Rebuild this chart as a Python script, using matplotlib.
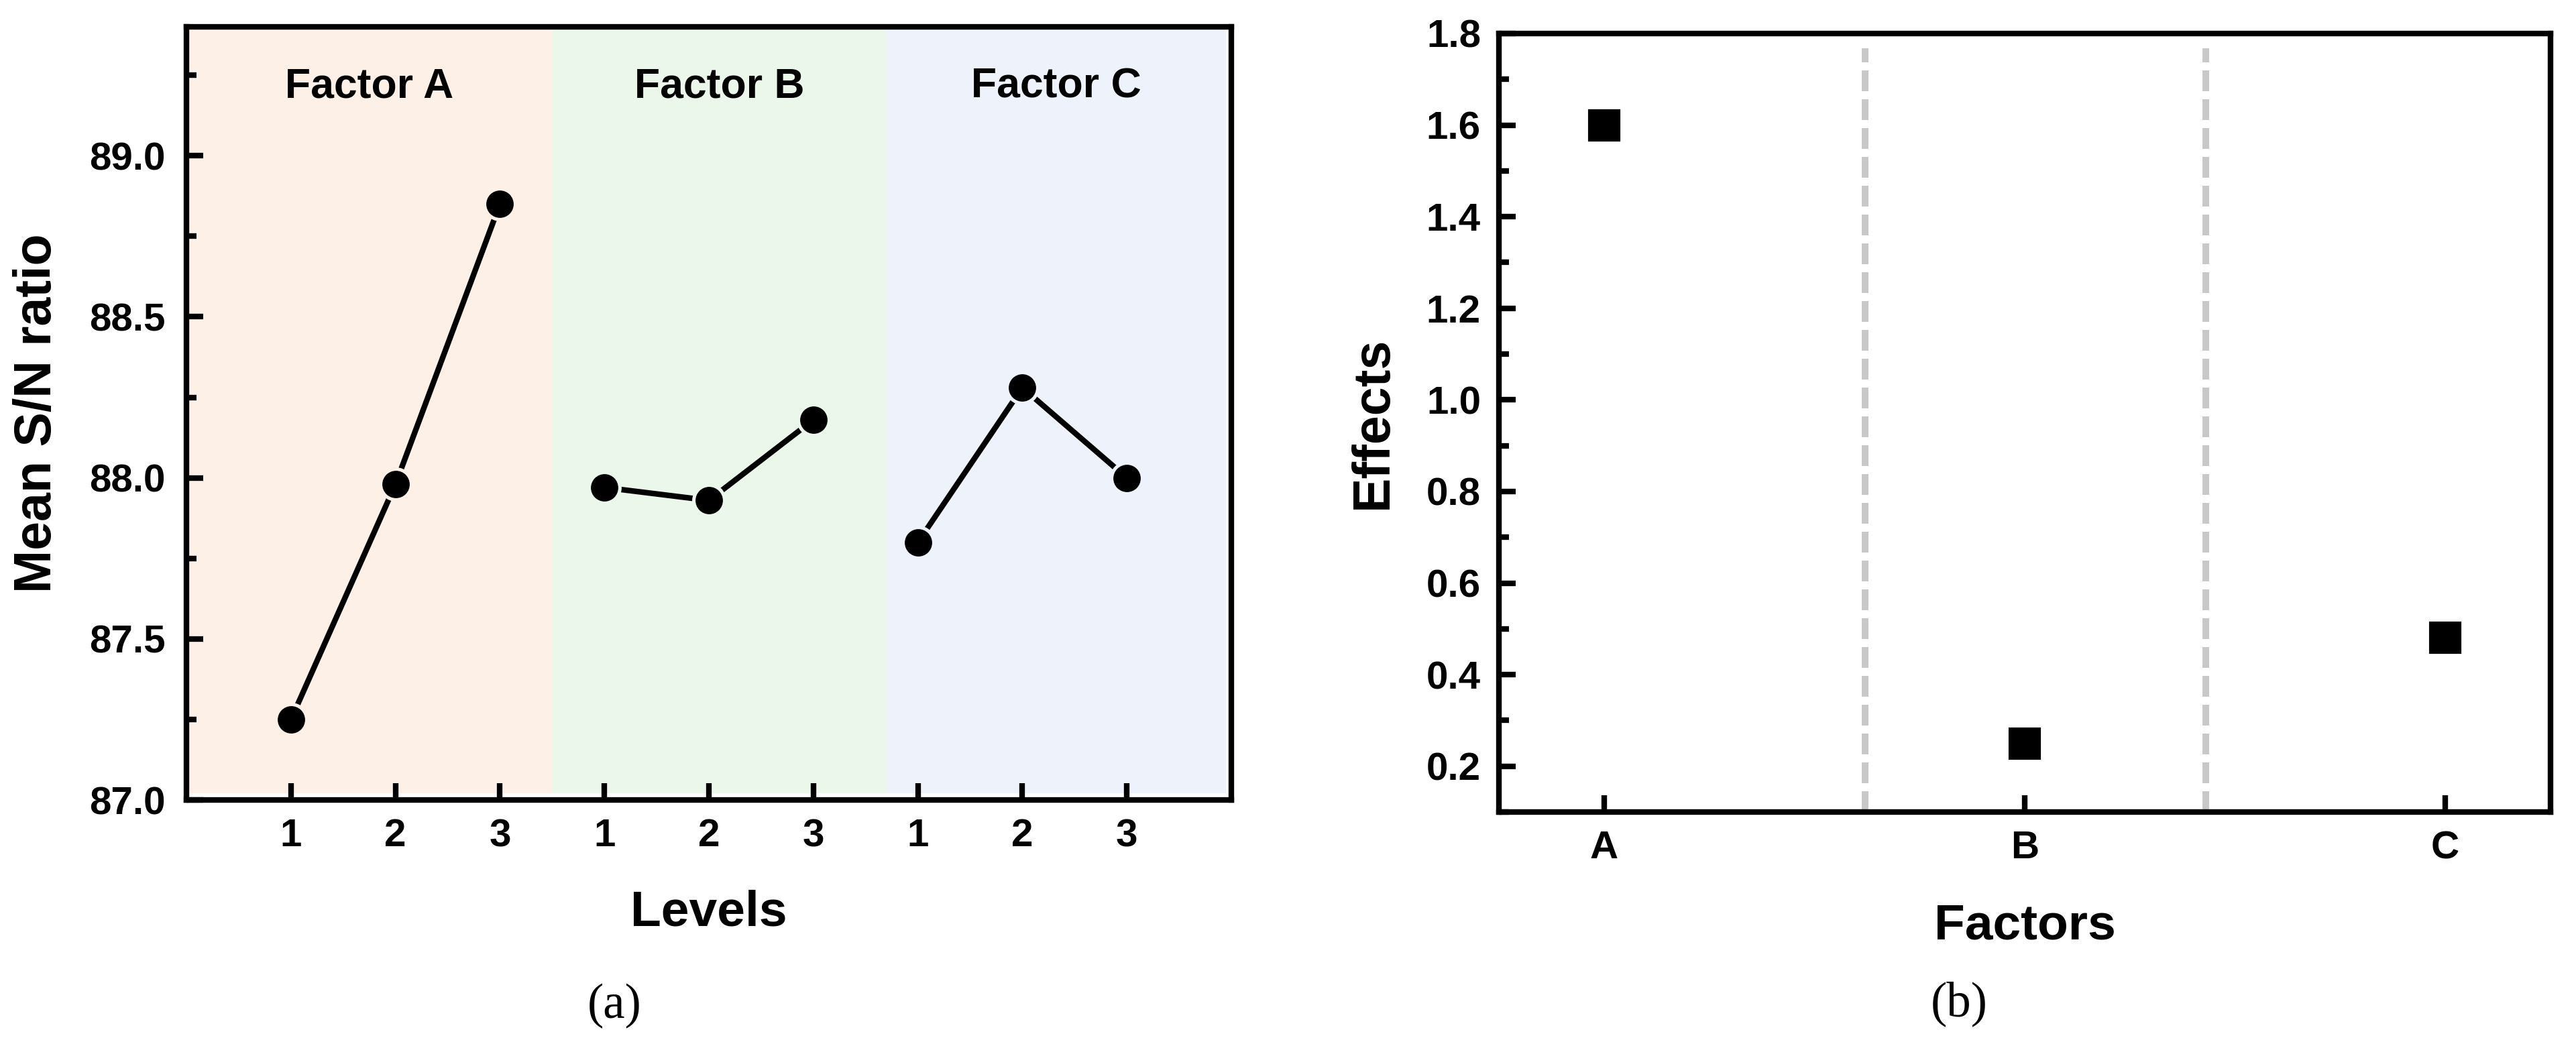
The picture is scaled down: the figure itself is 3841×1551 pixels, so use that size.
import matplotlib
matplotlib.use("Agg")
import matplotlib.pyplot as plt
from matplotlib.ticker import MultipleLocator, FormatStrFormatter

plt.rcParams["font.family"] = "Liberation Sans"
plt.rcParams["font.weight"] = "bold"

# (a) mean S/N ratio per factor level
factors = ["Factor A", "Factor B", "Factor C"]
levels = [1, 2, 3]
sn_a = [87.25, 87.98, 88.85]
sn_b = [87.97, 87.93, 88.18]
sn_c = [87.80, 88.28, 88.00]
band_colors = ["#fdf0e7", "#eaf7ea", "#eef3fb"]

# (b) effects
effect_names = ["A", "B", "C"]
effects = [1.60, 0.25, 0.48]

fig = plt.figure(figsize=(3841 / 300, 1551 / 300), dpi=300)
ax1 = fig.add_axes([0.0724, 0.2308, 0.4056, 0.7434])
ax2 = fig.add_axes([0.5819, 0.2192, 0.4082, 0.7486])

for ax in (ax1, ax2):
    for s in ax.spines.values():
        s.set_linewidth(2.0)
    ax.tick_params(axis="both", which="major", direction="in", length=6, width=2.0,
                   labelsize=14)
    ax.tick_params(axis="y", which="major", pad=7.5)
    ax.tick_params(axis="x", which="major", pad=6.5)
    ax.tick_params(axis="y", which="minor", direction="in", length=3.5, width=2.0)
    ax.tick_params(axis="x", which="minor", bottom=False)

# ---- panel (a)
bounds = [0, 3.5, 6.7, 9.95]
series = [sn_a, sn_b, sn_c]
for i, (name, vals) in enumerate(zip(factors, series)):
    ax1.axvspan(bounds[i], bounds[i + 1], ymin=0.009, ymax=1, color=band_colors[i],
                lw=0, zorder=0)
    xs = [3 * i + lv for lv in levels]
    ax1.plot(xs, vals, color="black", lw=2.0, marker="o", markersize=11,
             markerfacecolor="black", markeredgecolor=band_colors[i],
             markeredgewidth=1.2, zorder=3)
    ax1.text((bounds[i] + bounds[i + 1]) / 2, 89.215, name, ha="center", va="center",
             fontsize=15, fontweight="bold")

ax1.set_xlim(0, 10)
ax1.set_ylim(87.0, 89.4)
ax1.set_xticks(range(1, 10))
ax1.set_xticklabels([str(lv) for _ in factors for lv in levels])
ax1.yaxis.set_major_locator(MultipleLocator(0.5))
ax1.yaxis.set_minor_locator(MultipleLocator(0.25))
ax1.yaxis.set_major_formatter(FormatStrFormatter("%.1f"))
ax1.set_ylabel("Mean S/N ratio", fontsize=18.5, fontweight="bold")
ax1.set_xlabel("Levels", fontsize=18, fontweight="bold")
ax1.yaxis.set_label_coords(-0.143, 0.5)
ax1.xaxis.set_label_coords(0.5, -0.146)
ax1.yaxis.label.set_va("center")
ax1.xaxis.label.set_va("center")

# ---- panel (b)
xpos = [1, 2, 3]
ax2.plot(xpos, effects, linestyle="none", marker="s", markersize=10.5, color="black", zorder=3)
for xv in (1.62, 2.43):
    ax2.plot([xv, xv], [0.1, 1.768], color="#c8c8c8", lw=2.4,
             linestyle=(0, (3.1, 1.2)), zorder=1)
ax2.set_xlim(0.75, 3.25)
ax2.set_ylim(0.1, 1.8)
ax2.set_xticks(xpos)
ax2.set_xticklabels(effect_names)
ax2.yaxis.set_major_locator(MultipleLocator(0.2))
ax2.yaxis.set_minor_locator(MultipleLocator(0.1))
ax2.yaxis.set_major_formatter(FormatStrFormatter("%.1f"))
ax2.tick_params(axis="y", which="major", pad=6.5)
ax2.set_ylabel("Effects", fontsize=18.5, fontweight="bold")
ax2.set_xlabel("Factors", fontsize=18, fontweight="bold")
ax2.yaxis.set_label_coords(-0.12, 0.5)
ax2.xaxis.set_label_coords(0.5, -0.146)
ax2.yaxis.label.set_va("center")
ax2.xaxis.label.set_va("center")

# sub-figure captions
fig.text(916 / 3841, 1 - 1500 / 1551, "(a)", ha="center", va="center",
         fontsize=17.5, fontweight="normal", family="Liberation Serif")
fig.text(2921 / 3841, 1 - 1497 / 1551, "(b)", ha="center", va="center",
         fontsize=17.5, fontweight="normal", family="Liberation Serif")

fig.savefig("out.png", dpi=300)
